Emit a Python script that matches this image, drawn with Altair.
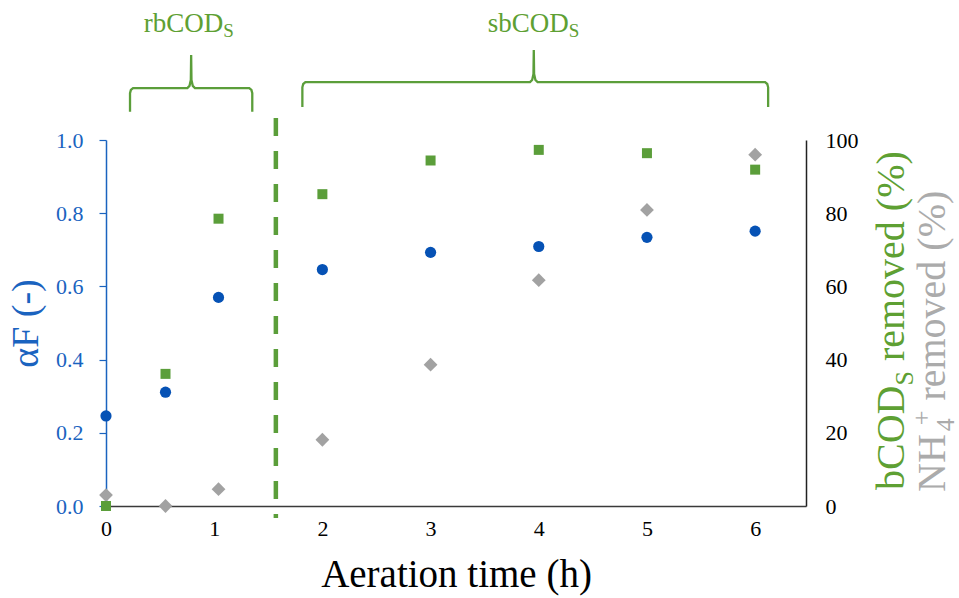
import altair as alt
import pandas as pd

# ---------------- data ----------------
hours = [0.0, 0.55, 1.04, 2.0, 3.0, 4.0, 5.0, 6.0]
alpha_f = [0.246, 0.311, 0.570, 0.646, 0.693, 0.709, 0.734, 0.751]
bcod_removed = [0.0, 36.1, 78.5, 85.2, 94.4, 97.3, 96.4, 91.9]
nh4_removed = [3.0, 0.0, 4.6, 18.1, 38.6, 61.7, 80.9, 96.0]

x_ticks = [0, 1, 2, 3, 4, 5, 6]
left_ticks = [0.0, 0.2, 0.4, 0.6, 0.8, 1.0]
right_ticks = [0, 20, 40, 60, 80, 100]

# phase annotations (hours, alphaF units)
phase_names = ["rbCOD", "sbCOD"]
phase_start = [0.222, 1.815]
phase_end = [1.352, 6.12]
phase_mid = [0.787, 3.954]
phase_foot = [1.077, 1.090]
phase_bar = [1.142, 1.158]
phase_peak = [1.232, 1.246]
phase_label_x = [1.083, 4.278]
divider_x = 1.57

FONT = "Liberation Serif"
BLUE = "#0652B5"
BLUE_AX = "#1A63BF"
GREEN = "#5B9E3A"
GREEN_TXT = "#5EA033"
GRAY = "#A2A2A2"
GRAY_TXT = "#ABABAB"

W, H = 700, 366
X_MAX = 6.47

df = pd.DataFrame({"t": hours, "af": alpha_f, "bcod": bcod_removed, "nh4": nh4_removed})

xs = alt.Scale(domain=[0, X_MAX], nice=False, zero=False)
yl = alt.Scale(domain=[0, 1], nice=False, zero=False)
yr = alt.Scale(domain=[0, 100], nice=False, zero=False)

x_axis = alt.Axis(values=x_ticks, format="d", grid=False, ticks=False, labelFlush=False,
                  domainColor="#3A3A3A", domainWidth=1.5,
                  labelFont=FONT, labelFontSize=22, labelColor="black", labelPadding=12,
                  title="Aeration time (h)", titleFont=FONT, titleFontSize=39,
                  titleFontWeight="normal", titleColor="black",
                  titleX=350, titleY=80, titleAlign="center", titleBaseline="alphabetic")

left_axis = alt.Axis(values=left_ticks, format=".1f", grid=False, orient="left", labelFlush=False,
                     domainColor=BLUE_AX, domainWidth=1.5, tickColor=BLUE_AX, tickSize=7,
                     tickWidth=1.2, labelFont=FONT, labelFontSize=22, labelColor=BLUE_AX,
                     labelPadding=16, title="αF (-)", titleFont=FONT, titleFontSize=38,
                     titleFontWeight="normal", titleColor=BLUE_AX, titleAngle=270,
                     titleX=-61, titleY=H / 2, titleAlign="center", titleBaseline="bottom")

right_axis = alt.Axis(values=right_ticks, format="d", grid=False, orient="right", labelFlush=False,
                      domainColor="#222222", domainWidth=1.5, ticks=False,
                      labelFont=FONT, labelFontSize=22, labelColor="black",
                      labelPadding=19, title=None)

X = lambda f: alt.X(f, scale=xs, axis=x_axis)
YL = lambda f: alt.Y(f, scale=yl, axis=left_axis)
YR = lambda f: alt.Y(f, scale=yr, axis=right_axis)

circles = alt.Chart(df).mark_point(shape="circle", filled=True, size=125, color=BLUE, opacity=1).encode(
    x=X("t:Q"), y=YL("af:Q"),
)

# dashed divider between phases
div_df = pd.DataFrame({"t": [divider_x], "af": [1.06], "af2": [-0.033]})
divider = alt.Chart(div_df).mark_rule(color=GREEN, strokeWidth=4.5, strokeDash=[18, 15]).encode(
    x=X("t:Q"), y=YL("af:Q"), y2="af2:Q",
)

# braces
rows = []
for i, name in enumerate(phase_names):
    a, b, m = phase_start[i], phase_end[i], phase_mid[i]
    f, bar, pk = phase_foot[i], phase_bar[i], phase_peak[i]
    pts = [
        (a, f), (a, bar - 0.014), (a + 0.008, bar - 0.005), (a + 0.028, bar),
        (m - 0.035, bar), (m - 0.015, bar + 0.006), (m - 0.003, bar + 0.022), (m, pk),
        (m + 0.003, bar + 0.022), (m + 0.015, bar + 0.006), (m + 0.035, bar),
        (b - 0.028, bar), (b - 0.008, bar - 0.005), (b, bar - 0.014), (b, f),
    ]
    for k, (px, py) in enumerate(pts):
        rows.append({"brace": name, "o": k, "t": px, "af": py})
brace_df = pd.DataFrame(rows)
braces = alt.Chart(brace_df).mark_line(color=GREEN, strokeWidth=2.3, interpolate="linear").encode(
    x=X("t:Q"), y=YL("af:Q"), detail="brace:N", order="o:Q",
)

lab_df = pd.DataFrame({"name": phase_names, "t": phase_label_x,
                       "af": [1.295, 1.295], "af_sub": [1.281, 1.281], "sub": ["S", "S"]})
lab_main = alt.Chart(lab_df).mark_text(font=FONT, fontSize=27, color=GREEN_TXT, align="right",
                                        baseline="alphabetic").encode(
    x=X("t:Q"), y=YL("af:Q"), text="name:N",
)
lab_sub = alt.Chart(lab_df).mark_text(font=FONT, fontSize=19, color=GREEN_TXT, align="left",
                                       baseline="alphabetic").encode(
    x=X("t:Q"), y=YL("af_sub:Q"), text="sub:N",
)

# right axis title (rich text built from pieces, rotated)
EM = {"b": .5, "C": .667, "O": .722, "D": .722, "S": .556, "N": .722, "H": .722,
      "4": .5, "+": .564, " ": .25, "r": .333, "e": .444, "m": .778, "o": .5,
      "v": .5, "d": .5, "(": .333, "%": .833, ")": .333}


def tw(s, size):
    return sum(EM.get(c, .5) for c in s) * size


one = pd.DataFrame({"k": [0]})


def piece(text, x, y, size, color):
    return alt.Chart(one).mark_text(text=text, font=FONT, fontSize=size, color=color,
                                    angle=270, align="left", baseline="alphabetic").encode(
        x=alt.value(x), y=alt.value(y))


TS, SS = 40, 26
SP = tw(" ", TS)
gx, gy = 798, 350
pieces = []
pieces.append(piece("bCOD", gx, gy, TS, GREEN_TXT))
y1 = gy - tw("bCOD", TS)
pieces.append(piece("S", gx + 9, y1, SS, GREEN_TXT))
y2 = y1 - tw("S", SS) - SP
pieces.append(piece("removed (%)", gx, y2, TS, GREEN_TXT))

nx, ny = 839, 352
pieces.append(piece("NH", nx, ny, TS, GRAY_TXT))
n1 = ny - tw("NH", TS) - 3
pieces.append(piece("4", nx + 9, n1, SS, GRAY_TXT))
pieces.append(piece("+", nx - 15, n1 - 6, SS, GRAY_TXT))
n2 = n1 - 6 - tw("+", SS) - SP
pieces.append(piece("removed (%)", nx, n2, TS, GRAY_TXT))

squares = alt.Chart(df).mark_point(shape="square", filled=True, size=100, color=GREEN, opacity=1).encode(
    x=X("t:Q"), y=YR("bcod:Q"),
)
diamonds = alt.Chart(df).mark_point(shape="diamond", filled=True, size=190, color=GRAY, opacity=1).encode(
    x=X("t:Q"), y=YR("nh4:Q"),
)

left_layer = alt.layer(circles, divider, braces, lab_main, lab_sub, *pieces)
right_layer = alt.layer(diamonds, squares)

chart = alt.layer(left_layer, right_layer).resolve_scale(y="independent").properties(
    width=W, height=H,
    autosize=alt.AutoSizeParams(type="none"),
    padding={"left": 106, "top": 140, "right": 153, "bottom": 92},
    background="white",
).configure_view(stroke=None)

chart.save("out.html", embed_options={"renderer": "svg", "actions": False})
